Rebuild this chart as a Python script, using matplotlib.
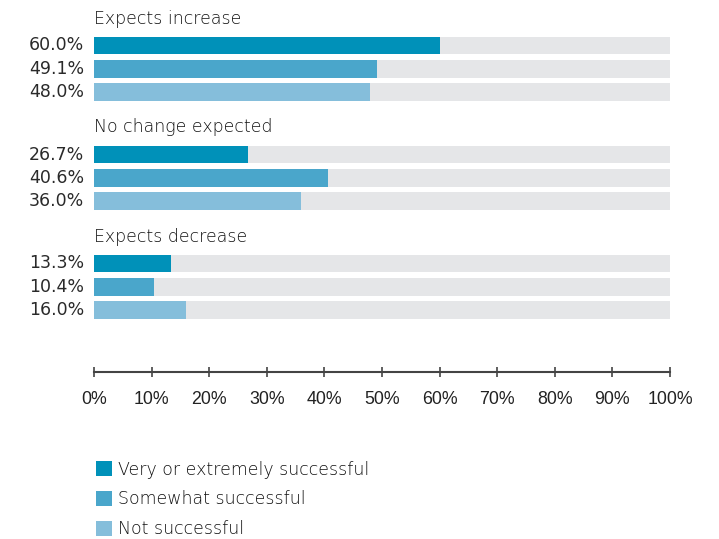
import matplotlib
matplotlib.use("Agg")
import matplotlib.pyplot as plt
from matplotlib.patches import Patch

# data
groups = ["Expects increase", "No change expected", "Expects decrease"]
series = ["Very or extremely successful", "Somewhat successful", "Not successful"]
values = [
    [60.0, 49.1, 48.0],
    [26.7, 40.6, 36.0],
    [13.3, 10.4, 16.0],
]
ticks = [0, 10, 20, 30, 40, 50, 60, 70, 80, 90, 100]
tick_labels = [f"{t}%" for t in ticks]

colors = ["#0091B9", "#4AA6CB", "#85BEDB"]
track = "#E5E6E8"
text_col = "#111111"

W, H = 719, 539
fig = plt.figure(figsize=(W / 100, H / 100), dpi=100)

# axes spans x 94..670 px, y 0..372 px; y data = pixel rows from top
x0, x1, ybot = 94, 670, 372
ax = fig.add_axes([x0 / W, (H - ybot) / H, (x1 - x0) / W, ybot / H])
ax.set_xlim(0, 100)
ax.set_ylim(ybot, 0)

group_top = 45.5
group_step = 109
row_step = 23.3
bar_h = 17.5

label_font = ["DejaVu Sans"]
fs = 12.5

for gi, (g, vals) in enumerate(zip(groups, values)):
    yc0 = group_top + gi * group_step
    ax.text(0, yc0 - 27, g, ha="left", va="center", fontsize=fs,
            color=text_col, family=label_font, fontweight="light")
    for si, v in enumerate(vals):
        yc = yc0 + si * row_step
        ax.barh(yc, 100, height=bar_h, color=track, left=0, zorder=1)
        ax.barh(yc, v, height=bar_h, color=colors[si], left=0, zorder=2)
        ax.annotate(f"{v:.1f}%", xy=(0, yc), xytext=(-10, 0),
                    textcoords="offset pixels", ha="right", va="center",
                    fontsize=fs, color="#2a2a2a", family=label_font)

for s in ["top", "right", "left"]:
    ax.spines[s].set_visible(False)
ax.spines["bottom"].set_color("#444444")
ax.spines["bottom"].set_linewidth(1.5)
ax.spines["bottom"].set_bounds(0, 100)
ax.set_yticks([])
ax.set_xticks(ticks)
ax.set_xticklabels(tick_labels, family=["Liberation Sans", "DejaVu Sans"],
                   fontsize=12.8, color="#222222")
ax.tick_params(axis="x", direction="inout", length=7, width=1.2,
               color="#444444", pad=10.5)

handles = [Patch(facecolor=c, edgecolor="none") for c in colors]
fig.legend(handles, series, loc="upper left",
           bbox_to_anchor=(80 / W, 1 - 445 / H), frameon=False,
           handlelength=0.95, handleheight=0.95, handletextpad=0.35,
           labelspacing=0.68,
           prop={"family": label_font, "size": fs, "weight": "light"},
           labelcolor=text_col)

fig.savefig("out.png", dpi=100, facecolor="white")
